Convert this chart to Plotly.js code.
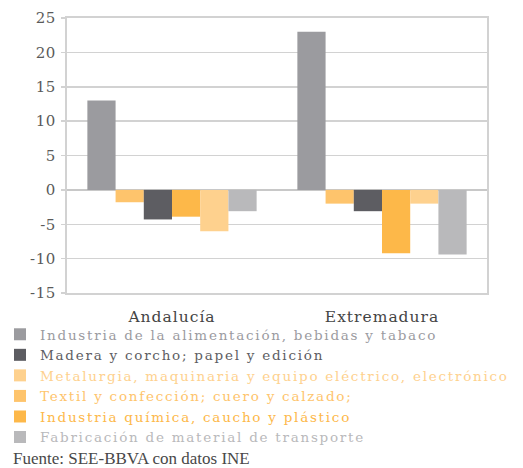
<!DOCTYPE html>
<html><head><meta charset="utf-8">
<script src="https://cdn.plot.ly/plotly-3.0.1.min.js"></script>
<style>
body{margin:0;background:#fff}#chart{width:523px;height:468px}
.legendtext{letter-spacing:1.75px}
.xtick text{letter-spacing:1px}
.ytick text{letter-spacing:0.6px}
</style>
</head><body><div id="chart"></div>
<script>
const regions = ["Andalucía", "Extremadura"];
const seriesNames = [
  "Industria de la alimentación, bebidas y tabaco",
  "Textil y confección; cuero y calzado;",
  "Madera y corcho; papel y edición",
  "Industria química, caucho y plástico",
  "Metalurgia, maquinaria y equipo eléctrico, electrónico",
  "Fabricación de material de transporte"
];
const alimentacion = [13, 23];
const textil = [-1.8, -2.0];
const madera = [-4.3, -3.1];
const quimica = [-3.9, -9.2];
const metalurgia = [-6.0, -2.0];
const transporte = [-3.1, -9.4];
const seriesValues = [alimentacion, textil, madera, quimica, metalurgia, transporte];
const seriesColors = ["#9b9b9f", "#fec46c", "#5d5d62", "#fdb849", "#fed18e", "#b9b9bb"];
const legendRanks = [1, 4, 2, 5, 3, 6];
const yTicks = [-15, -10, -5, 0, 5, 10, 15, 20, 25];
const sourceNote = "Fuente: SEE-BBVA con datos INE";

const traces = seriesNames.map((n, i) => ({
  type: "bar",
  x: regions,
  y: seriesValues[i],
  name: '<span style="color:' + seriesColors[i] + '">' + n + '</span>',
  marker: {color: seriesColors[i], line: {width: 0}},
  legendrank: legendRanks[i],
  hoverinfo: "x+y"
}));

const grid = "#d2d2d2";
const layout = {
  width: 523, height: 468,
  margin: {l: 67, r: 36, t: 18, b: 175, autoexpand: false},
  paper_bgcolor: "#fff", plot_bgcolor: "#fff",
  barmode: "group", bargap: 0.194, bargroupgap: 0,
  font: {family: "DejaVu Serif", color: "#555"},
  showlegend: true,
  legend: {
    xref: "container", yref: "container",
    x: 0, y: 1 - 319 / 468, xanchor: "left", yanchor: "top",
    orientation: "v", traceorder: "normal",
    font: {family: "DejaVu Serif", size: 13.5},
    itemwidth: 30, tracegroupgap: 0,
    bgcolor: "rgba(0,0,0,0)"
  },
  xaxis: {
    type: "category",
    showgrid: false, zeroline: false,
    showline: true, linecolor: grid, linewidth: 2, mirror: true,
    ticks: "", tickfont: {family: "DejaVu Serif", size: 15.5, color: "#444"},
    ticklabelstandoff: 8
  },
  xaxis2: {
    overlaying: "x", anchor: "free", position: 15 / 40,
    range: [-0.5, 1.5], showgrid: false, zeroline: false, showline: false,
    tickmode: "array", tickvals: [0.5], ticks: "outside", ticklen: 6,
    tickcolor: "#c8c8c8", tickwidth: 1.5, showticklabels: false
  },
  yaxis: {
    range: [-15, 25], tickvals: yTicks, ticktext: yTicks.map(String),
    showgrid: true, gridcolor: grid, gridwidth: 1.5,
    zeroline: true, zerolinecolor: "#c8c8c8", zerolinewidth: 1.5,
    showline: true, linecolor: grid, linewidth: 2, mirror: true,
    ticks: "outside", ticklen: 4, tickcolor: grid, tickwidth: 1.5,
    tickfont: {family: "DejaVu Serif", size: 15, color: "#5a5a5a"},
    ticklabelstandoff: 2
  },
  annotations: [{
    text: sourceNote, xref: "paper", yref: "paper",
    x: (11 - 67) / 420, y: (293 - 458) / 275, xanchor: "left", yanchor: "middle",
    showarrow: false, font: {family: "Liberation Serif", size: 17, color: "#484848"}
  }]
};
Plotly.newPlot("chart", traces, layout, {staticPlot: true});
</script></body></html>
